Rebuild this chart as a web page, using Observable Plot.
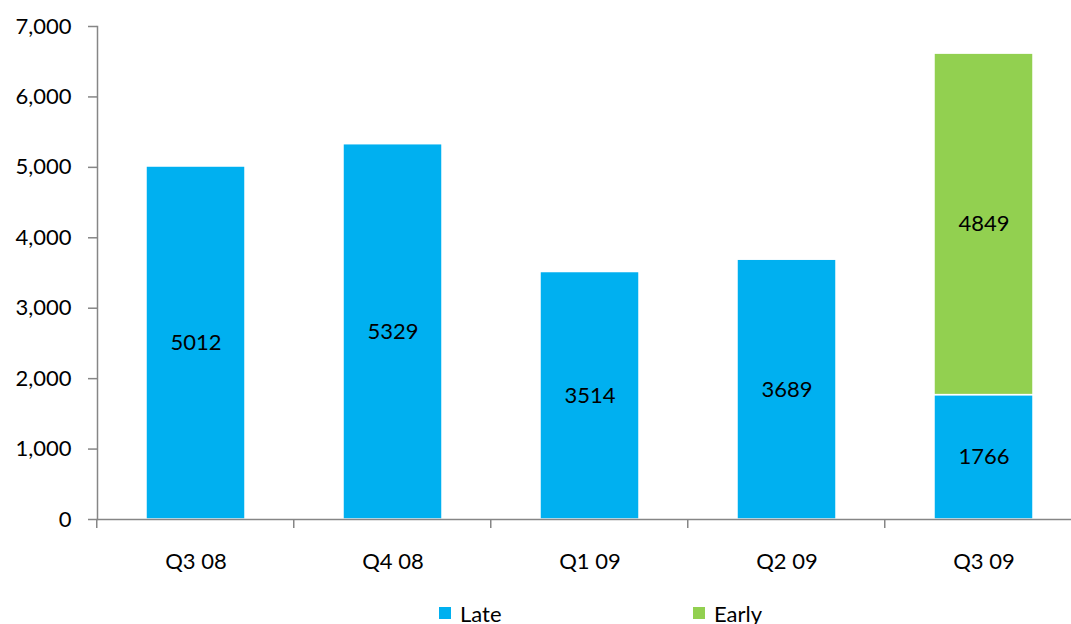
<!DOCTYPE html>
<html>
<head>
<meta charset="utf-8">
<script src="https://cdn.jsdelivr.net/npm/d3@7"></script>
<script src="https://cdn.jsdelivr.net/npm/@observablehq/plot@0.6"></script>
<style>
  html, body { margin: 0; padding: 0; background: #fff; }
  #wrap { position: relative; width: 1071px; height: 624px; overflow: hidden; font-family: Lato, "Open Sans", sans-serif; }
  #legend { position: absolute; top: 600px; left: 0; width: 1071px; height: 24px; font-size: 22px; color: #000; }
  .item { position: absolute; top: 0; display: flex; align-items: center; height: 26px; }
  .sw { width: 12px; height: 12px; margin-right: 9px; }
</style>
</head>
<body>
<div id="wrap"><div id="chart"></div><div id="legend"></div></div>
<script>
const quarters = ["Q3 08", "Q4 08", "Q1 09", "Q2 09", "Q3 09"];
const late = [5012, 5329, 3514, 3689, 1766];
const early = [null, null, null, null, 4849];
const seriesNames = ["Late", "Early"];
const seriesColors = ["#00B0F0", "#92D050"];
const yTicks = [0, 1000, 2000, 3000, 4000, 5000, 6000, 7000];

const rows = [];
quarters.forEach((q, i) => {
  if (late[i] != null) rows.push({quarter: q, series: "Late", value: late[i]});
  if (early[i] != null) rows.push({quarter: q, series: "Early", value: early[i]});
});

const W = 1071, H = 600;
const axisColor = "#868686";

// tick marks at category boundaries, drawn through the x scale
function boundaryTicks(index, scales, values, dimensions) {
  const g = d3.create("svg:g");
  const x = scales.x;
  const step = x.step ? x.step() : 0;
  const y0 = scales.y(0);
  quarters.forEach(q => {
    const bx = x(q) - (x.padding ? 0 : 0) - step * x.paddingOuter() + 0; // band start minus outer padding
    g.append("line").attr("x1", bx).attr("x2", bx).attr("y1", y0).attr("y2", y0 + 9)
      .attr("stroke", axisColor).attr("stroke-width", 1.5);
  });
  return g.node();
}

const chart = Plot.plot({
  width: W,
  height: H,
  marginLeft: 97,
  marginRight: W - 1082,
  marginTop: 26,
  marginBottom: H - 519,
  style: {fontFamily: "Lato, 'Open Sans', sans-serif", fontSize: "22px", color: "#000", background: "#fff", overflow: "visible"},
  x: {domain: quarters, range: [97, 1082], paddingInner: 0.5, paddingOuter: 0.25, label: null},
  y: {domain: [0, 7000], range: [519, 26], label: null},
  color: {domain: seriesNames, range: seriesColors},
  marks: [
    Plot.barY(rows, Plot.stackY({
      x: "quarter", y: "value", z: "series", fill: "series", order: seriesNames,
      stroke: "white", strokeWidth: 1.5,
      style: "filter: drop-shadow(0px 0px 2px rgba(0,0,0,0.28))"
    })),
    Plot.text(rows, Plot.stackY({
      x: "quarter", y: "value", z: "series", order: seriesNames,
      text: d => String(d.value), fill: "#000", fontSize: 22
    })),
    Plot.frame({anchor: "left", stroke: axisColor, strokeWidth: 1.5}),
    Plot.frame({anchor: "bottom", stroke: axisColor, strokeWidth: 1.5}),
    Plot.axisY({ticks: yTicks, tickFormat: d3.format(","), tickSize: 9, tickPadding: 17,
      stroke: axisColor, strokeWidth: 1.5, fill: "#000", fontSize: 22, label: null}),
    Plot.axisX({tickSize: 0, tickPadding: 34, fill: "#000", fontSize: 22, label: null}),
    boundaryTicks
  ]
});
document.getElementById("chart").appendChild(chart);

const legend = document.getElementById("legend");
const legendX = [439, 693];
seriesNames.forEach((s, i) => {
  const it = document.createElement("div");
  it.className = "item";
  it.style.left = legendX[i] + "px";
  const sw = document.createElement("div");
  sw.className = "sw";
  sw.style.background = seriesColors[i];
  const tx = document.createElement("span");
  tx.textContent = s;
  it.appendChild(sw); it.appendChild(tx);
  legend.appendChild(it);
});
</script>
</body>
</html>
